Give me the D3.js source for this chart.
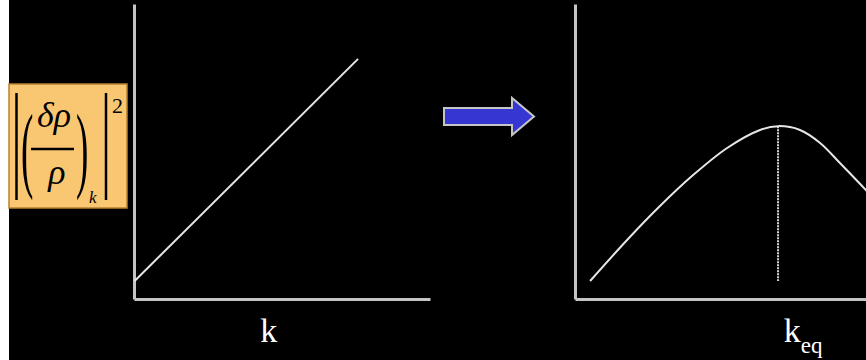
<!DOCTYPE html>
<html>
<head>
<meta charset="utf-8">
<script src="https://cdn.jsdelivr.net/npm/d3@7"></script>
<style>
  html, body { margin: 0; padding: 0; background: #000; }
  svg { display: block; }
</style>
</head>
<body>
<div id="chart"></div>
<script>
// left panel: power grows linearly with k
var leftK = [0.02, 7.57];
var leftP = [0.61, 8.14];

// right panel: turnover at k_eq
var rightK = [0.51, 1.76, 2.87, 3.99, 5.14, 6.25, 6.86, 7.60, 8.28, 8.95, 9.83, 10.0];
var rightP = [0.61, 2.00, 3.15, 4.20, 5.12, 5.73, 5.86, 5.73, 5.29, 4.61, 3.69, 3.50];
var kEq = 6.86;
var kEqPower = 5.86;
var dottedBottom = 0.61;

var xLabels = ["k", "k", "eq"];

var width = 866, height = 360;

var svg = d3.select("#chart").append("svg")
    .attr("width", width)
    .attr("height", height);

svg.append("rect")
    .attr("width", width).attr("height", height)
    .attr("fill", "#000");

// white strip at far left
svg.append("rect")
    .attr("x", 0).attr("y", 0)
    .attr("width", 9).attr("height", height)
    .attr("fill", "#fff");

// scales
var xL = d3.scaleLinear().domain([0, 10]).range([134, 430]);
var xR = d3.scaleLinear().domain([0, 10]).range([575, 871]);
var y = d3.scaleLinear().domain([0, 10]).range([299, 4]);

var axisColour = "#c4c4c4";

function drawAxes(x) {
    var gx = svg.append("g")
        .attr("transform", "translate(0," + y(0) + ")")
        .call(d3.axisBottom(x).ticks(0).tickSizeOuter(0));
    var gy = svg.append("g")
        .attr("transform", "translate(" + x(0) + ",0)")
        .call(d3.axisLeft(y).ticks(0).tickSizeOuter(0));
    [gx, gy].forEach(function (g) {
        g.select(".domain")
            .attr("stroke", axisColour)
            .attr("stroke-width", 3);
    });
}

drawAxes(xL);
drawAxes(xR);

var lineColour = "#e6e6e6";

// left straight line
var leftData = leftK.map(function (k, i) { return {k: k, p: leftP[i]}; });
svg.append("path")
    .datum(leftData)
    .attr("fill", "none")
    .attr("stroke", lineColour)
    .attr("stroke-width", 2)
    .attr("d", d3.line()
        .x(function (d) { return xL(d.k); })
        .y(function (d) { return y(d.p); }));

// right curve
var rightData = rightK.map(function (k, i) { return {k: k, p: rightP[i]}; });
svg.append("clipPath").attr("id", "clipR")
    .append("rect").attr("x", 575).attr("y", 0).attr("width", 291).attr("height", 300);

svg.append("path")
    .datum(rightData)
    .attr("clip-path", "url(#clipR)")
    .attr("fill", "none")
    .attr("stroke", lineColour)
    .attr("stroke-width", 2)
    .attr("d", d3.line()
        .curve(d3.curveCatmullRom.alpha(0.5))
        .x(function (d) { return xR(d.k); })
        .y(function (d) { return y(d.p); }));

// dotted line at k_eq
svg.append("line")
    .attr("x1", xR(kEq)).attr("x2", xR(kEq))
    .attr("y1", y(kEqPower)).attr("y2", y(dottedBottom))
    .attr("stroke", "#d8d8d8")
    .attr("stroke-width", 2)
    .attr("stroke-dasharray", "2,1");

// axis labels
svg.append("text")
    .attr("x", xL(4.55)).attr("y", 342)
    .attr("text-anchor", "middle")
    .attr("font-family", "'Liberation Serif', 'Times New Roman', serif")
    .attr("font-size", 34)
    .attr("fill", "#fff")
    .text(xLabels[0]);

var keq = svg.append("text")
    .attr("x", xR(7.05)).attr("y", 342)
    .attr("font-family", "'Liberation Serif', 'Times New Roman', serif")
    .attr("font-size", 34)
    .attr("fill", "#fff");
keq.append("tspan").text(xLabels[1]);
keq.append("tspan").attr("font-size", 23).attr("dy", 11).text(xLabels[2]);

// blue arrow
var arrow = svg.append("g");
arrow.append("path")
    .attr("d", "M444,108 L512,108 L512,98 L534,116.5 L512,135 L512,125 L444,125 Z")
    .attr("fill", "#3636d2")
    .attr("stroke", "#c6c6c6")
    .attr("stroke-width", 2)
    .attr("stroke-linejoin", "miter");

// orange formula box
var box = svg.append("g");
box.append("rect")
    .attr("x", 9).attr("y", 84)
    .attr("width", 118).attr("height", 124)
    .attr("fill", "#f9c772")
    .attr("stroke", "#b98130")
    .attr("stroke-width", 1.5);

// absolute-value bars
[16.5, 106].forEach(function (bx) {
    box.append("line")
        .attr("x1", bx).attr("x2", bx)
        .attr("y1", 93).attr("y2", 200)
        .attr("stroke", "#000")
        .attr("stroke-width", 2.5);
});

var serif = "'Liberation Serif', 'Times New Roman', serif";

// big parentheses
box.append("text")
    .attr("transform", "translate(21,180) scale(0.6,1.55)")
    .attr("font-family", serif)
    .attr("font-size", 62)
    .attr("fill", "#000")
    .text("(");
box.append("text")
    .attr("transform", "translate(76,180) scale(0.6,1.55)")
    .attr("font-family", serif)
    .attr("font-size", 62)
    .attr("fill", "#000")
    .text(")");

// fraction
box.append("text")
    .attr("x", 54).attr("y", 127)
    .attr("text-anchor", "middle")
    .attr("font-family", serif)
    .attr("font-style", "italic")
    .attr("font-size", 36)
    .attr("fill", "#000")
    .text("δρ");
box.append("line")
    .attr("x1", 31).attr("x2", 74)
    .attr("y1", 149).attr("y2", 149)
    .attr("stroke", "#000")
    .attr("stroke-width", 2.5);
box.append("text")
    .attr("x", 57).attr("y", 184)
    .attr("text-anchor", "middle")
    .attr("font-family", serif)
    .attr("font-style", "italic")
    .attr("font-size", 36)
    .attr("fill", "#000")
    .text("ρ");

// subscript k and exponent 2
box.append("text")
    .attr("x", 89).attr("y", 203)
    .attr("font-family", serif)
    .attr("font-style", "italic")
    .attr("font-size", 17)
    .attr("fill", "#000")
    .text("k");
box.append("text")
    .attr("x", 112).attr("y", 113)
    .attr("font-family", serif)
    .attr("font-size", 22)
    .attr("fill", "#000")
    .text("2");
</script>
</body>
</html>
